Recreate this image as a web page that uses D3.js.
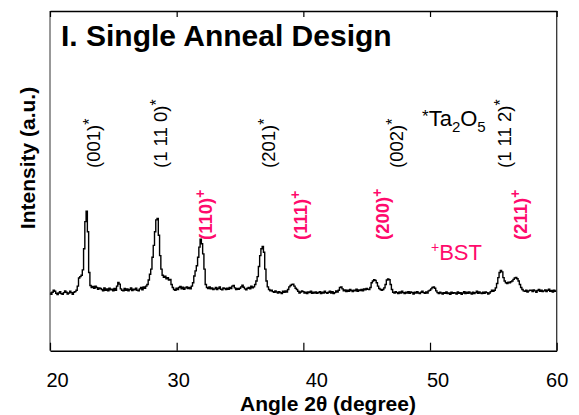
<!DOCTYPE html>
<html><head><meta charset="utf-8">
<script src="https://cdn.jsdelivr.net/npm/d3@7"></script>
<style>
html,body{margin:0;padding:0;background:#fff;}
svg{display:block;font-family:"Liberation Sans",Arial,Helvetica,sans-serif;}
</style></head>
<body>
<svg id="chart" width="579" height="415"></svg>
<script>
// ---------- data ----------
const angleStart = 20, angleStep = 0.1;   // 2θ sampling of the scan
const intensity = [
 170,166,172,178,175,169,165,170,174,168,   // 20.x
 166,171,176,172,167,170,175,171,166,172,   // 21.x
 174,178,190,214,218,222,238,300,380,411,   // 22.x
 350,230,192,186,189,184,190,186,181,185,   // 23.x
 183,180,176,185,178,182,176,184,179,181,   // 24.x
 176,183,178,190,201,196,182,178,176,183,   // 25.x
 178,182,176,180,185,177,181,179,184,178,   // 26.x
 176,182,186,179,188,184,190,195,208,225,   // 27.x
 240,275,310,350,385,389,340,280,240,222,   // 28.x
 216,219,212,215,208,210,195,186,180,178,   // 29.x
 184,180,186,189,182,187,181,185,188,183,   // 30.x
 186,182,190,200,220,235,250,275,305,328,   // 31.x
 315,285,240,195,186,183,188,182,185,180,   // 32.x
 182,186,180,184,188,181,179,185,183,180,   // 33.x
 184,181,186,183,190,192,185,180,183,181,   // 34.x
 184,188,193,187,182,179,184,186,182,190,   // 35.x
 185,188,195,205,218,248,280,300,307,290,   // 36.x
 240,205,188,180,176,178,174,172,176,173,   // 37.x
 170,174,171,168,175,172,176,173,180,188,   // 38.x
 192,195,196,190,184,180,175,170,173,176,   // 39.x
 174,170,172,168,173,171,175,169,172,170,   // 40.x
 173,169,171,174,168,172,170,175,171,169,   // 41.x
 172,175,170,174,168,171,176,173,178,186,   // 42.x
 188,182,176,179,174,178,175,180,177,174,   // 43.x
 178,176,181,175,179,177,180,176,182,179,   // 44.x
 183,181,180,186,200,205,209,207,200,190,   // 45.x
 183,180,178,180,185,195,208,211,209,195,   // 46.x
 180,172,170,174,171,168,173,170,175,171,   // 47.x
 168,172,170,174,169,173,171,167,172,170,   // 48.x
 174,170,168,172,175,171,169,173,170,176,   // 49.x
 178,182,186,188,184,176,171,168,172,170,   // 50.x
 167,171,169,173,168,170,166,172,169,171,   // 51.x
 170,167,173,169,171,166,170,174,168,172,   // 52.x
 169,173,170,167,172,168,171,175,169,173,   // 53.x
 170,168,172,169,173,171,167,170,174,178,   // 54.x
 175,178,185,198,215,230,236,232,215,205,   // 55.x
 200,198,202,200,203,205,210,214,216,212,   // 56.x
 205,195,186,180,176,175,178,173,176,178,   // 57.x
 178,174,179,176,172,177,180,175,178,174,   // 58.x
 176,179,174,178,181,175,177,173,178,175,   // 59.x
 176                                        // 60.0
];
const xTicks = [20, 30, 40, 50, 60];
const xTickLabels = ["20", "30", "40", "50", "60"];
const ta2o5Labels = ["(001)", "(1 11 0)", "(201)", "(002)", "(1 11 2)"];
const ta2o5LabelAngles = [23.95, 29.24, 37.77, 47.88, 56.41];
const bstLabels = ["(110)", "(111)", "(200)", "(211)"];
const bstLabelAngles = [32.8, 40.3, 46.78, 57.68];
const titleText = "I. Single Anneal Design";
const xTitle = "Angle 2θ (degree)";
const yTitle = "Intensity (a.u.)";

// ---------- layout ----------
const L = 50, R = 556.7, T = 11, B = 350.7;
const pink = "#ff0a6c";
const tickLabelShift = {20: 7, 30: 1.5, 40: 13, 50: 7.5, 60: 0};

const svg = d3.select("#chart");
const x = d3.scaleLinear().domain([20, 60]).range([L, R]);
const y = d3.scaleLinear().domain([0, 1000]).range([B, T]);

const pts = intensity.map((v, i) => [angleStart + i * angleStep, v]);

// trace
svg.append("path")
  .datum(pts)
  .attr("fill", "none")
  .attr("stroke", "#000")
  .attr("stroke-width", 1.4)
  .attr("stroke-linejoin", "miter")
  .attr("d", d3.line().x(d => x(d[0])).y(d => y(d[1])).curve(d3.curveStep));

// frame: left and right
svg.append("line").attr("x1", L).attr("x2", L).attr("y1", T).attr("y2", B)
  .attr("stroke", "#333").attr("stroke-width", 1);
svg.append("line").attr("x1", R).attr("x2", R).attr("y1", T).attr("y2", B)
  .attr("stroke", "#333").attr("stroke-width", 1.3);

// bottom axis
const gx = svg.append("g").attr("transform", `translate(0,${B})`)
  .call(d3.axisBottom(x).tickValues(xTicks)
    .tickFormat((d, i) => xTickLabels[i]).tickSizeInner(-8).tickSizeOuter(0).tickPadding(22));
gx.select(".domain").attr("stroke", "#000").attr("stroke-width", 1.5);
gx.selectAll(".tick line").attr("stroke", "#000").attr("stroke-width", 1.2);
gx.selectAll(".tick text")
  .attr("font-family", "Liberation Sans, Arial, sans-serif")
  .attr("font-size", 20).attr("fill", "#000")
  .attr("dx", d => tickLabelShift[d]);

// top axis (ticks only)
const gt = svg.append("g").attr("transform", `translate(0,${T})`)
  .call(d3.axisTop(x).tickValues(xTicks).tickFormat("").tickSizeInner(-6).tickSizeOuter(0));
gt.select(".domain").attr("stroke", "#000").attr("stroke-width", 1.5);
gt.selectAll(".tick line").attr("stroke", "#000").attr("stroke-width", 1.2);

// title
svg.append("text").attr("x", 61).attr("y", 46)
  .attr("font-size", 30).attr("font-weight", "bold").attr("fill", "#000")
  .text(titleText);

// axis titles
svg.append("text").attr("x", 328).attr("y", 411).attr("text-anchor", "middle")
  .attr("font-size", 21).attr("font-weight", "bold").text(xTitle);
svg.append("text").attr("transform", "translate(35,158) rotate(-90)")
  .attr("text-anchor", "middle")
  .attr("font-size", 21).attr("font-weight", "bold").text(yTitle);

// Ta2O5 peak labels (black, rotated)
ta2o5Labels.forEach((lab, i) => {
  const t = svg.append("text")
    .attr("transform", `translate(${x(ta2o5LabelAngles[i])},168) rotate(-90)`)
    .attr("font-size", 18.5).attr("fill", "#000");
  t.append("tspan").text(lab);
  t.append("tspan").attr("dy", -5).attr("font-size", 16).text("*");
});

// BST peak labels (pink, bold, rotated)
bstLabels.forEach((lab, i) => {
  const t = svg.append("text")
    .attr("transform", `translate(${x(bstLabelAngles[i])},240) rotate(-90)`)
    .attr("font-size", 18.5).attr("font-weight", "bold").attr("fill", pink);
  t.append("tspan").text(lab);
  t.append("tspan").attr("dy", -7).attr("font-size", 14).text("+");
});

// legend texts
const lg = svg.append("text").attr("x", 422).attr("y", 126).attr("font-size", 22).attr("fill", "#000");
lg.append("tspan").attr("font-size", 17).attr("dy", -4).text("*");
lg.append("tspan").attr("dy", 4).text("Ta");
lg.append("tspan").attr("font-size", 15).attr("dy", 6).text("2");
lg.append("tspan").attr("dy", -6).text("O");
lg.append("tspan").attr("font-size", 15).attr("dy", 6).text("5");

const lb = svg.append("text").attr("x", 431).attr("y", 260).attr("font-size", 22).attr("fill", pink);
lb.append("tspan").attr("font-size", 14).attr("dy", -8).text("+");
lb.append("tspan").attr("dy", 8).text("BST");
</script>
</body></html>
